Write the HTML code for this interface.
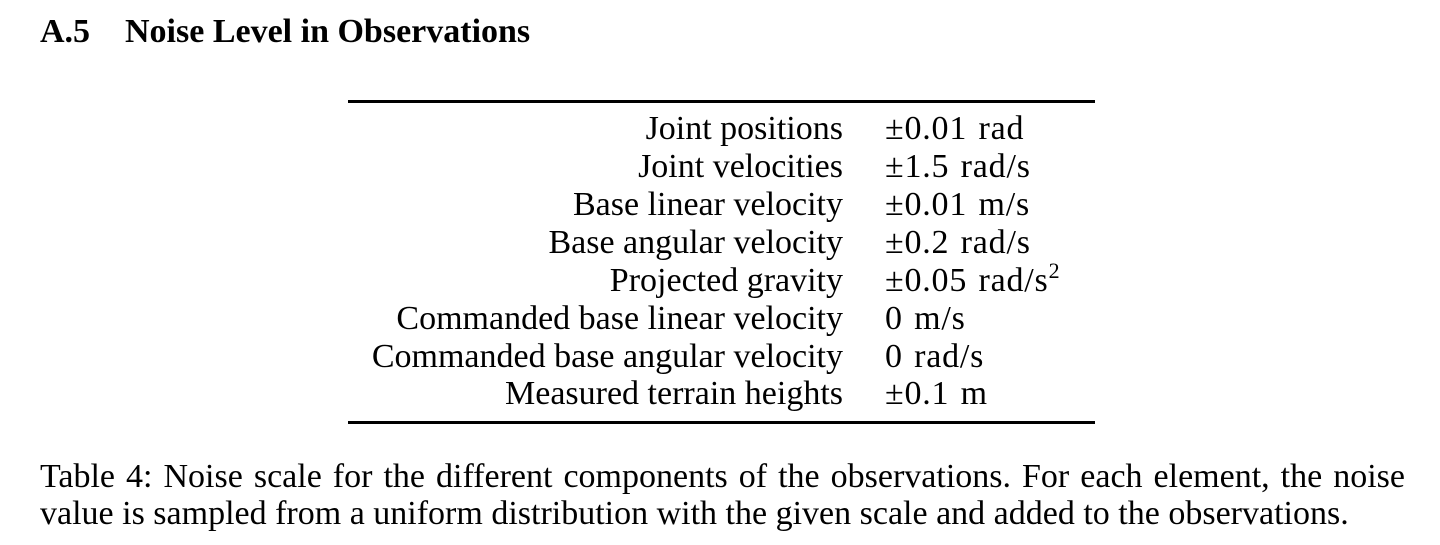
<!DOCTYPE html>
<html><head><meta charset="utf-8"><style>
html,body{margin:0;padding:0;background:#fff;}
body{width:1440px;height:545px;position:relative;overflow:hidden;font-family:"Liberation Serif","DejaVu Serif",serif;color:#000;}
.a{position:absolute;white-space:nowrap;line-height:34px;font-size:34px;}
.r{position:absolute;right:597px;white-space:nowrap;line-height:34px;font-size:34px;}
.v{position:absolute;left:885px;white-space:nowrap;line-height:34px;font-size:34px;letter-spacing:0.8px;word-spacing:2px;}
.rule{position:absolute;left:348px;width:747px;height:3px;background:#000;}
.cap{position:absolute;left:40px;width:1365px;font-size:34px;line-height:34px;white-space:nowrap;}
sup{font-size:22px;line-height:0;vertical-align:13px;}
</style></head><body>
<div class="a" style="left:40px;top:15px;font-weight:bold;">A.5</div>
<div class="a" style="left:125px;top:15px;font-weight:bold;">Noise Level in Observations</div>
<div class="rule" style="top:100px;"></div>
<div class="r" style="top:112px;">Joint positions</div><div class="v" style="top:112px;">±0.01 rad</div>
<div class="r" style="top:150px;">Joint velocities</div><div class="v" style="top:150px;">±1.5 rad/s</div>
<div class="r" style="top:188px;">Base linear velocity</div><div class="v" style="top:188px;">±0.01 m/s</div>
<div class="r" style="top:226px;">Base angular velocity</div><div class="v" style="top:226px;">±0.2 rad/s</div>
<div class="r" style="top:264px;">Projected gravity</div><div class="v" style="top:264px;">±0.05 rad/s<sup>2</sup></div>
<div class="r" style="top:302px;">Commanded base linear velocity</div><div class="v" style="top:302px;">0 m/s</div>
<div class="r" style="top:340px;">Commanded base angular velocity</div><div class="v" style="top:340px;">0 rad/s</div>
<div class="r" style="top:377px;">Measured terrain heights</div><div class="v" style="top:377px;">±0.1 m</div>
<div class="rule" style="top:421px;"></div>
<div class="cap" style="top:460px;text-align:justify;text-align-last:justify;white-space:normal;">Table 4: Noise scale for the different components of the observations. For each element, the noise</div>
<div class="cap" style="top:497px;">value is sampled from a uniform distribution with the given scale and added to the observations.</div>
</body></html>
